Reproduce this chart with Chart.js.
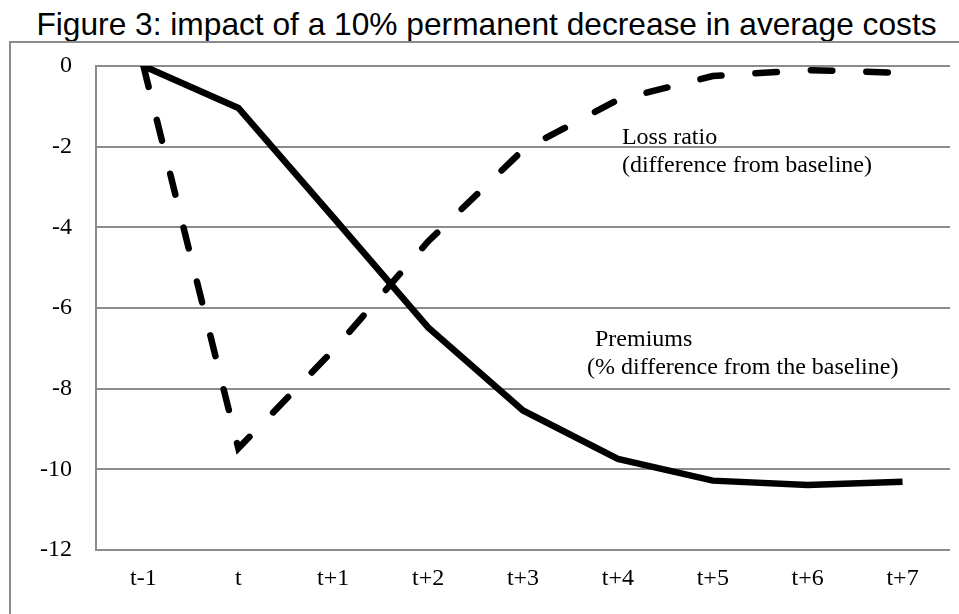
<!DOCTYPE html>
<html>
<head>
<meta charset="utf-8">
<script src="https://cdn.jsdelivr.net/npm/chart.js@4.4.1/dist/chart.umd.min.js"></script>
<style>
  body { margin: 0; background: #fff; }
  #title {
    position: absolute; left: 0; width: 973px; top: 6px;
    text-align: center; font-family: "Liberation Sans", Arial, sans-serif;
    font-size: 31.7px; color: #000; white-space: nowrap;
  }
  #box {
    position: absolute; left: 9px; top: 41px; width: 980px; height: 620px;
    border: 2px solid #8c8c8c;
  }
  #wrap { position: absolute; left: 0; top: 0; width: 959px; height: 614px; }
</style>
</head>
<body>
<div id="title">Figure 3: impact of a 10% permanent decrease in average costs</div>
<div id="box"></div>
<div id="wrap"><canvas id="canvas"></canvas></div>
<script>
  // periods on the x axis
  var periods = ['t-1', 't', 't+1', 't+2', 't+3', 't+4', 't+5', 't+6', 't+7'];
  // premiums, % difference from the baseline (solid)
  var premiums = [0, -1.04, -3.75, -6.48, -8.54, -9.74, -10.28, -10.39, -10.31];
  // loss ratio, difference from baseline (dashed)
  var lossRatio = [0, -9.48, -7.05, -4.35, -2.08, -0.84, -0.25, -0.1, -0.17];
  // y axis ticks
  var yTicks = [0, -2, -4, -6, -8, -10, -12];

  // text notes: lines, anchor category, anchor value, pixel offset x per line
  var notes = [
    { lines: ['Loss ratio', '(difference from baseline)'], at: 't+4', value: -1.93, dx: [4, 4] },
    { lines: ['Premiums', '(% difference from the baseline)'], at: 't+3', value: -6.94, dx: [72, 64] }
  ];

  const serif = '"Liberation Serif", "Times New Roman", serif';

  const notePlugin = {
    id: 'notes',
    afterDatasetsDraw(chart) {
      const ctx = chart.ctx;
      const xs = chart.scales.x, ys = chart.scales.y;
      ctx.save();
      ctx.font = '24px ' + serif;
      ctx.fillStyle = '#000';
      ctx.textAlign = 'left';
      ctx.textBaseline = 'alphabetic';
      notes.forEach(function (n) {
        var x = xs.getPixelForValue(periods.indexOf(n.at));
        var y = ys.getPixelForValue(n.value);
        n.lines.forEach(function (s, i) {
          ctx.fillText(s, x + n.dx[i], y + i * 28);
        });
      });
      ctx.restore();
    }
  };

  const data = {
    labels: periods,
    datasets: [{
      label: 'Loss ratio',
      data: lossRatio,
      borderColor: '#000',
      borderWidth: 6.5,
      borderDash: [21.5, 34],
      borderCapStyle: 'round',
      pointRadius: 0,
      tension: 0,
      fill: false
    }, {
      label: 'Premiums',
      data: premiums,
      borderColor: '#000',
      borderWidth: 6.5,
      pointRadius: 0,
      tension: 0,
      fill: false
    }]
  };

  const config = {
    type: 'line',
    data: data,
    options: {
      responsive: false,
      animation: false,
      layout: { padding: { top: 66, right: 9, left: 0, bottom: 0 } },
      plugins: { legend: { display: false }, tooltip: { enabled: false } },
      scales: {
        x: {
          offset: true,
          grid: { display: false, drawTicks: false },
          border: { display: false },
          ticks: { color: '#000', font: { family: serif, size: 24 }, padding: 14, maxRotation: 0 },
          afterFit: function (s) { s.height = 64; }
        },
        y: {
          min: -12, max: 0,
          afterBuildTicks: function (s) { s.ticks = yTicks.map(function (v) { return { value: v }; }); },
          grid: { color: '#8c8c8c', lineWidth: 2, drawTicks: false },
          border: { display: true, color: '#8c8c8c', width: 2 },
          ticks: { color: '#000', font: { family: serif, size: 24 }, padding: 24 },
          afterFit: function (s) { s.width = 96; }
        }
      }
    },
    plugins: [notePlugin]
  };

  const canvas = document.getElementById('canvas');
  canvas.width = 959;
  canvas.height = 614;
  const chart = new Chart(canvas, config);
</script>
</body>
</html>
